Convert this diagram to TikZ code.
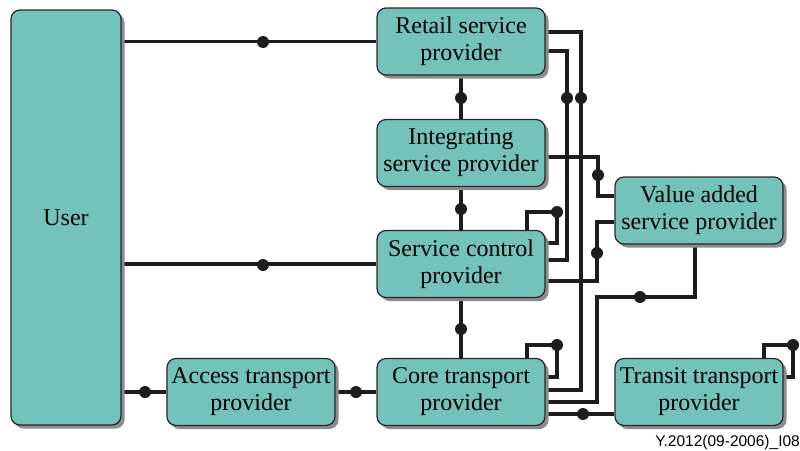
\documentclass[tikz,border=0pt]{standalone}
\usepackage{fontspec}
\setmainfont{Liberation Serif}
\newfontfamily\labelfont{Liberation Sans}
\usetikzlibrary{shadows,backgrounds}
\definecolor{boxfill}{RGB}{116,195,186}
\definecolor{wirec}{RGB}{30,28,30}
\definecolor{shadowc}{RGB}{140,140,140}
\begin{document}
\begin{tikzpicture}[x=1pt,y=-1pt,
 prov/.style={draw=black!85, line width=1.2pt, fill=boxfill, rounded corners=9pt,
   minimum width=168pt, minimum height=67pt, align=center, inner sep=0pt,
   font=\fontsize{24}{27}\selectfont,
   drop shadow={shadow xshift=3.5pt, shadow yshift=-3.5pt, fill=shadowc, opacity=1}},
 wire/.style={draw=wirec, line width=3.7pt},
 dot/.style={circle, fill=wirec, inner sep=0pt, minimum size=12pt}]
\useasboundingbox (0,0) rectangle (800,450);
% boxes
\node[prov, minimum width=110pt, minimum height=415pt] (user) at (66,217.5) {User};
\node[prov] (retail) at (461,41.5) {Retail service\\provider};
\node[prov] (integ) at (461,153) {Integrating\\service provider};
\node[prov] (sc) at (461,264) {Service control\\provider};
\node[prov] (core) at (461,392) {Core transport\\provider};
\node[prov] (access) at (251,392) {Access transport\\provider};
\node[prov] (va) at (699,210.5) {Value added\\service provider};
\node[prov] (transit) at (699,392) {Transit transport\\provider};
\node[font=\labelfont\fontsize{15.5}{15.5}\selectfont, anchor=base east, inner sep=0pt] (code) at (800,446) {Y.2012(09-2006)\_I08};
\begin{pgfonlayer}{background}
\draw[wire] (user.east |- retail.west) -- (retail.west);
\draw[wire] (user.east |- sc.west) -- (sc.west);
\draw[wire] (user.east |- access.west) -- (access.west);
\draw[wire] (access.east) -- (core.west);
\draw[wire] (retail.south) -- (integ.north);
\draw[wire] (integ.south) -- (sc.north);
\draw[wire] (sc.south) -- (core.north);
\draw[wire] (retail.east |- 0,32) -| (581,390) -- (core.east |- 0,390);
\draw[wire] (retail.east |- 0,51) -| (567,260) -- (sc.east |- 0,260);
\draw[wire] (integ.east |- 0,157) -| (598,196) -- (va.west |- 0,196);
\draw[wire] (sc.east |- 0,281) -| (597,222) -- (va.west |- 0,222);
\draw[wire] (va.south -| 695,0) |- (597,297) |- (core.east |- 0,402);
\draw[wire] (sc.north -| 527,0) |- (557,212) |- (sc.east |- 0,243);
\draw[wire] (core.north -| 527,0) |- (557,345) |- (core.east |- 0,377);
\draw[wire] (core.east |- 0,414) -- (transit.west |- 0,414);
\draw[wire] (transit.north -| 764,0) |- (793,345) |- (transit.east |- 0,377);
% dots
\node[dot] (d1) at (263,42) {};
\node[dot] (d2) at (263,265) {};
\node[dot] (d3) at (145,392) {};
\node[dot] (d4) at (356,392) {};
\node[dot] (d5) at (461,98) {};
\node[dot] (d6) at (461,209) {};
\node[dot] (d7) at (461,329) {};
\node[dot] (d8) at (567,98) {};
\node[dot] (d9) at (581,98) {};
\node[dot] (d10) at (598,175) {};
\node[dot] (d11) at (597,253) {};
\node[dot] (d12) at (640,297) {};
\node[dot] (d13) at (557,212) {};
\node[dot] (d14) at (557,345) {};
\node[dot] (d15) at (583,414) {};
\node[dot] (d16) at (793,345) {};
\end{pgfonlayer}
\end{tikzpicture}
\end{document}
